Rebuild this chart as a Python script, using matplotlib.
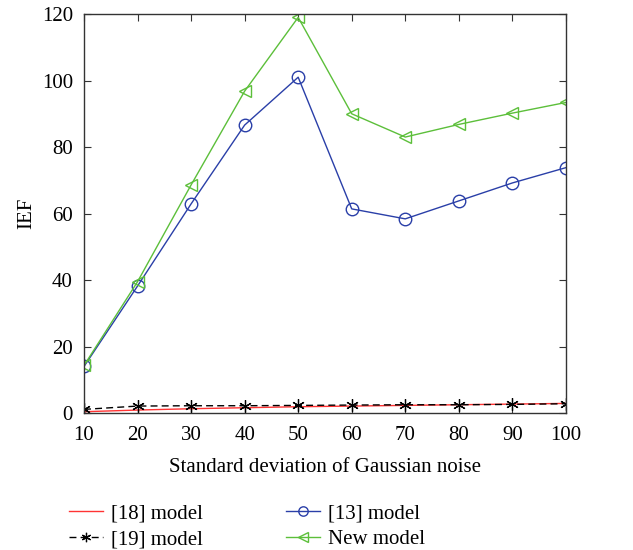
import numpy as np
import matplotlib
matplotlib.use('Agg')
from matplotlib import pyplot as plt

plt.rcParams['font.family'] = ['Liberation Serif', 'DejaVu Serif']

noise = [10, 20, 30, 40, 50, 60, 70, 80, 90, 100]
ief_18 = [0.4, 0.9, 1.3, 1.6, 1.9, 2.1, 2.3, 2.5, 2.7, 2.9]
ief_19 = [1.1, 2.1, 2.2, 2.2, 2.3, 2.4, 2.5, 2.5, 2.6, 2.8]
ief_13 = [14.0, 38.2, 62.9, 86.6, 101.0, 61.4, 58.4, 63.8, 69.2, 73.8]
ief_new = [14.3, 39.5, 68.6, 96.8, 119.0, 90.0, 83.0, 86.8, 90.2, 93.4]

fig = plt.figure(figsize=(6.33, 5.5), dpi=100)
ax = fig.add_axes([0.1327, 0.249, 0.7613, 0.7255])

# asterisk marker: 6 arms
l18, = ax.plot(noise, ief_18, color='#ff3333', lw=1.0)
l19, = ax.plot(noise, ief_19, color='black', lw=1.0, ls=(0, (5, 3)),
               marker=(6, 2, 0), ms=9, mew=0.9)
l13, = ax.plot(noise, ief_13, color='#2a3fa8', lw=1.0, marker='o', ms=9,
               markerfacecolor='none', mew=1.0)
lnew, = ax.plot(noise, ief_new, color='#5cbf3a', lw=1.0, marker='<', ms=9,
                markerfacecolor='none', mew=1.0)

ax.set_xlim(10, 100)
ax.set_ylim(0, 120)
ax.set_xticks(noise)
ax.set_yticks(range(0, 121, 20))
ax.tick_params(direction='in', top=True, right=True, labelsize=15, length=5, color='#333333')
ax.tick_params(axis='x', pad=9)
ax.tick_params(axis='y', pad=8)
for s in ax.spines.values():
    s.set_color('#333333')
    s.set_linewidth(1.0)

ax.set_xlabel('Standard deviation of Gaussian noise', fontsize=15, labelpad=10)
ax.set_ylabel('IEF', fontsize=15, labelpad=4)

fig.legend([l18, l19, l13, lnew], ['[18] model', '[19] model', '[13] model', 'New model'],
           ncol=2, frameon=False, fontsize=15, loc='upper left',
           bbox_to_anchor=(0.08, 0.118), columnspacing=4.0, handlelength=1.6,
           handletextpad=0.4, labelspacing=0.3, markerscale=0.75)

fig.savefig('out.png', dpi=100)
